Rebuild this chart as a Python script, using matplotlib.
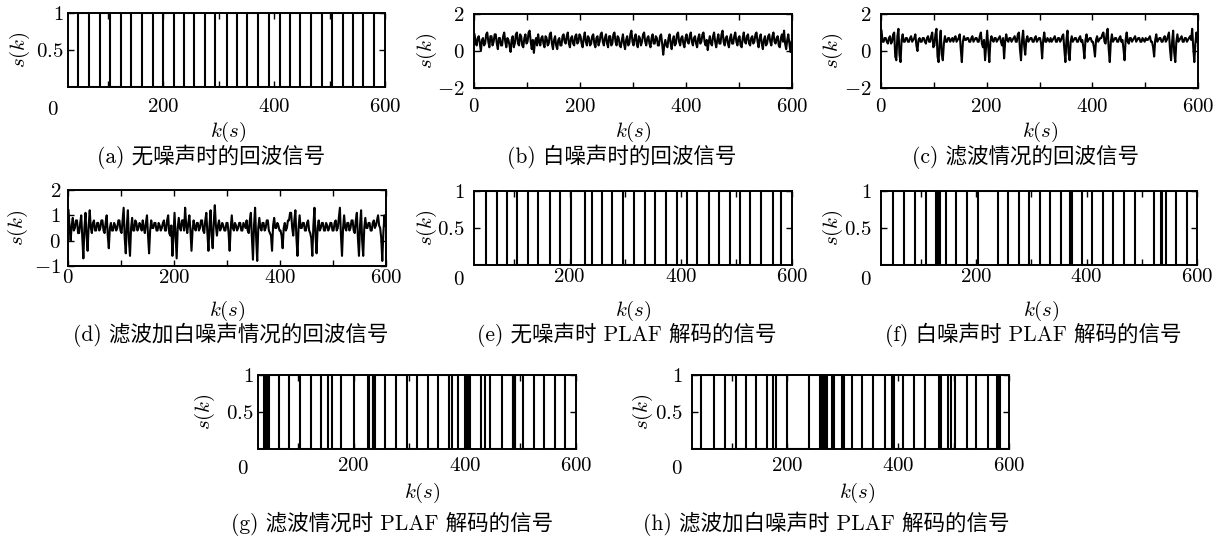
import numpy as np
import matplotlib
matplotlib.use("Agg")
import matplotlib.pyplot as plt

plt.rcParams['font.family'] = ['cmr10', 'Noto Sans CJK SC', 'DejaVu Sans']
plt.rcParams['mathtext.fontset'] = 'cm'
plt.rcParams['axes.unicode_minus'] = False

W, H = 1218, 537
FS = 15

# square-wave switching instants k, signal starts at 0
edges_a = [46, 65, 85, 104, 124, 142, 162, 181, 199, 219, 237, 256, 276, 294, 314,
           333, 351, 371, 390, 410, 429, 447, 466, 486, 504, 524, 543, 561, 580]
edges_e = [50, 69, 87, 105, 125, 144, 164, 183, 202, 227, 240, 259, 277, 296, 315,
           336, 354, 374, 393, 412, 430, 450, 469, 488, 506, 524, 545, 565, 581]
edges_f = [50, 70, 90, 109, 127, 132, 134, 146, 164, 184, 203, 239, 258, 278, 296,
           315, 334, 353, 371, 372, 373, 391, 410, 430, 448, 467, 487, 523, 535, 536,
           543, 562, 581]
edges_g = [39, 40, 41, 42, 43, 44, 45, 46, 47, 66, 84, 103, 123, 141, 154, 162, 177,
           200, 225, 228, 234, 235, 239, 257, 276, 296, 314, 333, 352, 371,
           377, 388, 400, 403, 404, 405, 406, 407, 410, 430, 436, 445, 466, 486, 487,
           488, 489, 490, 491, 504, 525, 543, 562, 581]
edges_h = [45, 68, 87, 107, 126, 144, 163, 174, 180, 200, 239, 259, 262, 265, 268,
           271, 281, 282, 284, 299, 301, 303, 316, 335, 355, 376, 389, 393, 409, 429,
           449, 474, 476, 478, 490, 496, 502, 525, 541, 563, 578, 580, 582, 584]

k_noise = list(range(1, 600, 2))
s_b = [0.9, 0.5, 0.3, 0.7, 0.8, 0.4, 0.0, 0.6, 0.7, 0.3, 0.4, 0.9, 1.0, 0.5, 0.2, 0.8, 0.8, 0.3, 0.5, 0.9,
       0.9, 0.4, 0.1, 0.7, 0.7, 0.3, 0.3, 0.8, 1.0, 0.5, 0.2, 0.7, 0.6, 0.3, -0.05, 0.6, 0.8, 0.2, 0.4, 0.9,
       1.0, 0.4, 0.3, 0.9, 0.8, 0.3, 0.2, 0.7, 0.9, 0.4, 0.5, 1.0, 1.1, 0.5, 0.1, 0.6, -0.1, 0.5, 0.7, 0.3,
       0.9, 0.5, 0.3, 0.7, 0.8, 0.4, 0.2, 0.8, 0.7, 0.3, 0.4, 0.9, 1.0, 0.4, 0.1, 0.6, 0.8, 0.3, 0.1, 0.6,
       0.7, 0.3, 0.3, 0.8, 0.9, 0.5, 0.4, 0.8, 1.0, 0.4, 0.2, 0.7, 0.8, 0.4, 0.3, 0.8, 0.9, 0.4, 0.5, 0.9,
       0.8, 0.4, 0.2, 0.7, 1.0, 0.5, 0.3, 0.8, 0.7, 0.3, 0.4, 0.8, 0.9, 0.4, 0.2, 0.7, 0.8, 0.3, 0.5, 0.9,
       1.0, 0.5, 0.3, 0.7, 0.9, 0.4, 0.2, 0.8, 0.8, 0.3, 0.4, 0.9, 1.0, 0.5, 0.3, 0.8, 0.7, 0.3, 0.2, 0.6,
       0.9, 0.4, 0.1, 0.6, 0.8, 0.3, 0.4, 0.9, 1.1, 0.5, 0.3, 0.7, 0.9, 0.4, 0.2, 0.8, 0.7, 0.3, 0.5, 0.9,
       1.0, 0.5, 0.3, 0.7, 0.8, 0.4, 0.2, 0.7, 0.9, 0.4, 0.4, 0.8, 0.7, 0.3, 0.3, 0.8, 0.9, 0.4, -0.2, 0.3,
       0.6, 0.3, 0.2, 0.7, 0.9, 0.4, 0.1, 0.6, 0.8, 0.3, 0.4, 0.9, 1.0, 0.5, 0.3, 0.7, 0.8, 0.4, 0.2, 0.7,
       0.9, 0.5, 0.4, 0.8, 1.0, 0.5, 0.3, 0.7, 0.8, 0.4, 0.2, 0.7, 0.9, 0.4, 0.5, 0.9, 1.0, 0.5, 0.3, 0.6,
       0.05, 0.5, 0.8, 0.4, 0.3, 0.8, 1.0, 0.5, 0.2, 0.6, 0.9, 0.4, 0.4, 0.9, 1.1, 0.5, 0.3, 0.7, 0.8, 0.4,
       0.2, 0.7, 0.9, 0.4, 0.4, 0.8, 1.0, 0.5, 0.3, 0.7, 0.8, 0.3, 0.2, 0.7, 1.0, 0.5, 0.4, 0.8, 0.9, 0.4,
       0.3, 0.7, 0.8, 0.4, 0.5, 0.9, 1.0, 0.5, 0.2, 0.7, 0.9, 0.4, 0.1, 0.6, 0.8, 0.3, 0.4, 0.8, 0.9, 0.5,
       0.3, 0.8, 1.0, 0.5, 0.4, 0.7, 0.8, 0.3, 0.2, 0.7, 0.9, 0.5, 1.1, 0.4, 0.1, 0.6, 0.9, 0.4, -0.05, 0.5]
s_c = [1.1, 0.5, 0.5, 0.7, 0.7, 0.5, 0.4, 0.7, 0.8, 0.4, 0.5, 0.9, 1.0, -0.3, -0.5, 0.8, 1.2, -0.2, -0.6, 0.6,
       0.9, 0.5, 0.5, 0.7, 0.7, 0.5, 0.5, 0.7, 0.8, 0.5, 0.6, 0.7, 0.9, 0.3, 0.0, 0.6, 0.7, 0.5, 0.5, 0.7,
       0.7, 0.5, 0.4, 0.7, 0.8, 0.5, 0.5, 0.8, 1.0, 0.2, 0.3, 0.9, 1.2, -0.3, -0.6, 0.5, 1.1, -0.2, -0.5, 0.4,
       0.8, 0.5, 0.5, 0.7, 0.7, 0.5, 0.6, 0.7, 0.5, 0.7, 0.8, 0.5, 0.6, 0.7, 0.9, 0.1, -0.6, 0.5, 0.8, 0.6,
       0.6, 0.7, 0.7, 0.5, 0.5, 0.7, 0.8, 0.5, 0.6, 0.7, 0.7, 0.5, 0.5, 0.8, 1.0, 0.4, 0.2, 0.6, -0.5, 0.3,
       1.1, 0.2, -0.6, 0.5, 0.8, 0.6, 0.5, 0.7, 0.7, 0.5, 0.6, 0.7, 0.8, 0.5, 0.3, 0.7, -0.4, 0.5, 0.9, 0.6,
       0.5, 0.7, 0.7, 0.5, 0.6, 0.7, 0.8, 0.5, 0.5, 0.9, 1.0, 0.1, -0.5, 0.6, 1.1, 0.3, -0.2, 0.6, 0.8, 0.5,
       0.6, 0.7, 0.7, 0.5, 0.5, 0.7, 0.8, 0.5, 0.6, 0.7, 0.7, 0.4, -0.4, 0.6, 1.0, 0.5, 0.5, 0.7, 0.6, 0.5,
       0.7, 0.5, 0.6, 0.7, 0.8, 0.5, 0.5, 0.7, 0.7, 0.5, 0.6, 0.8, 0.9, 0.1, -0.6, 0.6, 1.1, -0.1, -0.5, 0.5,
       0.8, 0.5, 0.6, 0.7, 0.7, 0.5, 0.5, 0.7, 0.8, 0.5, 0.6, 0.2, -0.4, 0.6, 0.9, 0.5, 0.6, 0.7, 0.7, 0.5,
       0.5, 0.2, -0.3, 0.6, 0.8, 0.5, 0.6, 0.7, 0.7, 0.9, 1.0, 0.5, 0.4, 0.9, 1.2, 0.1, -0.6, 0.5, 0.9, 0.5,
       0.6, 0.7, 0.7, 0.5, 0.5, 0.7, 0.8, 0.5, 0.6, 0.1, -0.5, 0.6, 1.0, 0.5, 0.4, 0.7, 0.7, 0.5, 0.6, 0.7,
       0.8, 0.5, 0.6, 0.7, 0.7, 0.5, 0.5, 0.7, 0.6, 0.5, 0.7, 0.6, 0.6, 0.7, 0.8, 0.5, 0.5, 0.2, -0.3, 0.6,
       0.9, 0.5, 0.6, 0.7, 0.7, 0.5, 0.5, 0.7, 0.8, 0.5, 0.6, 0.8, 1.0, 0.1, -0.5, 0.5, 1.1, -0.1, -0.6, 0.5,
       0.9, 0.5, 0.6, 0.7, 0.8, 0.5, 0.5, 0.7, 0.7, 0.5, 0.6, 0.7, 0.8, 0.6, 1.2, 0.2, -0.6, 0.4, 1.0, 0.5]
s_d = [1.2, 0.5, 0.0, 0.6, 0.9, 0.4, 0.5, 0.8, 0.8, 0.3, 0.3, 0.7, 1.0, 0.1, -0.7, 0.5, 1.1, 0.2, -0.4, 0.6,
       1.2, 0.5, 0.3, 0.7, 0.8, 0.4, 0.4, 0.7, 0.7, 0.4, 0.5, 0.8, 0.8, 0.4, 0.3, 0.7, 1.0, 0.2, -0.3, 0.5,
       0.7, 0.4, 0.4, 0.7, 0.6, 0.4, 0.5, 0.8, 0.8, 0.4, 0.3, 0.8, 1.3, 0.1, -0.5, 0.6, 1.2, 0.0, -0.6, 0.5,
       0.9, 0.4, 0.4, 0.8, 0.7, 0.4, 0.5, 0.7, 0.6, 0.4, 0.8, 0.5, 0.3, 0.7, 1.0, 0.2, -0.5, 0.4, 0.8, 0.5,
       0.5, 0.7, 0.7, 0.4, 0.4, 0.7, 0.6, 0.4, 0.5, 0.7, 0.8, 0.4, 0.4, 0.8, 1.0, 0.3, 0.2, 0.6, -0.6, 0.2,
       1.1, 0.2, -0.7, 0.5, 0.9, 0.5, 0.4, 0.8, 0.8, 0.4, 1.3, 0.6, 0.3, 0.7, 1.0, 0.4, -0.4, 0.4, 0.8, 0.5,
       0.4, 0.7, 0.7, 0.4, 0.5, 0.8, 0.8, 0.4, 0.3, 0.8, 1.1, 0.3, -0.4, 0.6, 1.2, 0.2, -0.3, 0.7, 1.4, 0.6,
       0.2, 0.6, 0.8, 0.4, 0.5, 0.7, 0.6, 0.4, 0.4, 0.7, 0.7, 0.3, -0.4, 0.5, 1.0, 0.5, 0.4, 0.7, 0.6, 0.4,
       0.5, 0.7, 0.7, 0.4, 0.4, 0.7, 0.6, 0.5, 0.8, 0.4, 0.3, 0.8, 1.1, 0.1, -0.75, 0.6, 1.3, 0.1, -0.8, 0.5,
       0.9, 0.5, 0.4, 0.7, 0.7, 0.4, 0.5, 0.8, 0.8, 0.4, 0.3, 0.2, -0.4, 0.6, 0.9, 0.5, 0.5, 0.7, 0.6, 0.4,
       0.4, 0.2, -0.3, 0.5, 0.7, 0.4, 0.5, 0.8, 0.8, 1.1, 1.1, 0.5, 0.2, 0.8, 1.2, 0.1, -0.6, 0.5, 1.0, 0.5,
       0.5, 0.7, 0.7, 0.4, 0.4, 0.7, 0.8, 0.4, 0.3, 0.1, -0.6, 0.6, 1.3, 0.2, -0.5, 0.5, 0.8, 0.4, 0.5, 0.7,
       0.7, 0.4, 0.4, 0.7, 0.6, 0.4, 0.5, 0.7, 0.7, 0.4, 0.4, 0.7, 0.8, 0.4, 0.5, 0.9, 1.3, 0.2, -0.6, 0.5,
       1.0, 0.5, 0.4, 0.7, 0.7, 0.4, 0.5, 0.8, 0.8, 0.4, 0.3, 0.8, 1.1, 0.1, -0.6, 0.6, 1.2, 0.0, -0.6, 0.5,
       0.9, 0.5, 0.5, 0.7, 0.7, 0.4, 0.4, 0.7, 0.8, 0.5, 0.6, 0.8, 1.0, 0.6, 0.5, 0.1, -0.8, 0.3, 1.0, 0.6]

captions = ['(a) 无噪声时的回波信号', '(b) 白噪声时的回波信号', '(c) 滤波情况的回波信号',
            '(d) 滤波加白噪声情况的回波信号', '(e) 无噪声时 PLAF 解码的信号',
            '(f) 白噪声时 PLAF 解码的信号', '(g) 滤波情况时 PLAF 解码的信号',
            '(h) 滤波加白噪声时 PLAF 解码的信号']


def square(edges, start=28, end=600):
    xs = np.concatenate([[start], np.repeat(edges, 2), [end]])
    ys = np.repeat(np.arange(len(edges) + 1) % 2, 2)
    return xs, ys


def rect(l, r, t, b):
    return [l / W, 1 - b / H, (r - l) / W, (b - t) / H]


def style(ax, xpad, ypad):
    for sp in ax.spines.values():
        sp.set_linewidth(1.4)
    ax.tick_params(direction='in', top=True, right=True, length=4, width=1.0,
                   labelsize=FS)
    ax.tick_params(axis='x', pad=xpad)
    ax.tick_params(axis='y', pad=ypad)


def labels(box, ylx, xlx, cx, xly, cy, cap):
    fig.text(ylx / W, 1 - (box[2] + box[3]) / 2 / H, '$s(k)$', rotation=90,
             ha='center', va='center', fontsize=FS)
    fig.text(xlx / W, 1 - xly / H, '$k(s)$', ha='center', va='center', fontsize=FS)
    fig.text(cx / W, 1 - cy / H, cap, ha='center', va='center', fontsize=15.5)


fig = plt.figure(figsize=(W / 100, H / 100), dpi=100)

# box (l, r, t, b), ylabel x, xlabel x, caption x, xlabel y, caption y, pads
square_panels = [
    (edges_a, (68, 385, 13, 87), 20, 228, 211, 132, 157, 8, 3, 0),
    (edges_e, (474, 792, 191, 265), 427, 633, 627, 311, 335, 2, 7, 4),
    (edges_f, (881, 1197, 191, 265), 833, 1041, 1033, 311, 335, 2, 7, 5),
    (edges_g, (258, 576, 375, 449), 205, 422, 392, 493, 524, 6, 3, 6),
    (edges_h, (692, 1009, 375, 449), 643, 857, 826, 493, 524, 6, 7, 7),
]
noise_panels = [
    (s_b, (474, 792, 14, 88), (-2, 2), [-2, 0, 2], 427, 633, 622, 132, 157, 7, 7, 1),
    (s_c, (881, 1198, 14, 88), (-2, 2), [-2, 0, 2], 833, 1040, 1025, 132, 157, 7, 7, 2),
    (s_d, (68, 386, 190, 266), (-1, 2), [-1, 0, 1, 2], 18, 227, 231, 311, 335, 2, 5, 3),
]

xticks = [100, 200, 300, 400, 500, 600]
xlabels = ['', '$200$', '', '$400$', '', '$600$']

for edges, box, ylx, xlx, cx, xly, cy, xpad, ypad, ci in square_panels:
    ax = fig.add_axes(rect(*box))
    xs, ys = square(edges)
    ax.plot(xs, ys, color='black', lw=1.5)
    ax.set_xlim(28, 600)
    ax.set_ylim(0, 1)
    ax.set_xticks(xticks)
    ax.set_xticklabels(xlabels)
    ax.set_yticks([0.5, 1])
    ax.set_yticklabels(['$0.5$', '$1$'])
    style(ax, xpad, ypad)
    ax.text(0, -(xpad * 1.39 + 3) / (box[3] - box[2]), '$0$',
            transform=ax.get_xaxis_transform(), ha='center', va='top',
            fontsize=FS, clip_on=False)
    labels(box, ylx, xlx, cx, xly, cy, captions[ci])

for s, box, ylim, yt, ylx, xlx, cx, xly, cy, xpad, ypad, ci in noise_panels:
    ax = fig.add_axes(rect(*box))
    ax.plot(k_noise, s, color='black', lw=1.5)
    ax.set_xlim(0, 600)
    ax.set_ylim(*ylim)
    ax.set_xticks([0] + xticks)
    ax.set_xticklabels(['$0$'] + xlabels)
    ax.set_yticks(yt)
    ax.set_yticklabels(['$%d$' % v if v >= 0 else '$-%d$' % -v for v in yt])
    style(ax, xpad, ypad)
    labels(box, ylx, xlx, cx, xly, cy, captions[ci])

fig.savefig('out.png', dpi=100)
